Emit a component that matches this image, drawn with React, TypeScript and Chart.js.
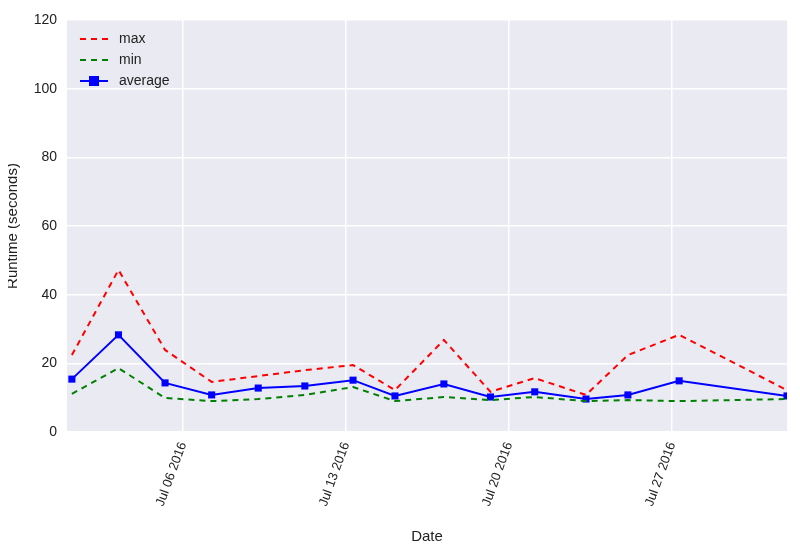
import { useEffect, useRef } from 'react';
import { Chart, registerables } from 'chart.js';

Chart.register(...registerables);

// x = day of July 2016 (fractional, samples taken ~05:30)
const days = [1.23, 3.23, 5.23, 7.23, 9.23, 11.23, 13.3, 15.1, 17.2, 19.2, 21.1, 23.3, 25.1, 27.3, 31.93];
const maxVals = [22.4, 47.2, 23.9, 14.6, 16.3, 18.0, 19.5, 12.2, 26.8, 11.7, 15.7, 10.8, 22.4, 28.3, 12.2];
const minVals = [11.1, 18.6, 9.9, 9.0, 9.6, 10.8, 13.1, 9.0, 10.2, 9.3, 10.2, 9.0, 9.3, 9.0, 9.6];
const avgVals = [15.4, 28.3, 14.3, 10.8, 12.8, 13.4, 15.1, 10.5, 14.0, 10.2, 11.7, 9.6, 10.8, 14.9, 10.5];
const xTicks = [6, 13, 20, 27];
const xTickLabels = ['Jul 06 2016', 'Jul 13 2016', 'Jul 20 2016', 'Jul 27 2016'];

const FONT = '"Liberation Sans", Arial, sans-serif';

const pts = (vals: number[]) => vals.map((y, i) => ({ x: days[i], y }));

const bgPlugin = {
  id: 'bg',
  beforeDraw(chart: Chart) {
    const { ctx, chartArea: a } = chart;
    ctx.save();
    ctx.fillStyle = '#EAEAF2';
    ctx.fillRect(a.left, a.top, a.right - a.left, a.bottom - a.top);
    ctx.restore();
  },
};

const legendPlugin = {
  id: 'customLegend',
  afterDraw(chart: Chart) {
    const { ctx } = chart;
    const items = [
      { label: 'max', color: 'red', dash: [6, 5], marker: false },
      { label: 'min', color: 'green', dash: [6, 5], marker: false },
      { label: 'average', color: 'blue', dash: [], marker: true },
    ];
    ctx.save();
    ctx.font = `14px ${FONT}`;
    ctx.textBaseline = 'middle';
    items.forEach((it, i) => {
      const y = 39 + i * 21;
      ctx.strokeStyle = it.color;
      ctx.lineWidth = 2;
      ctx.setLineDash(it.dash);
      ctx.beginPath();
      ctx.moveTo(80, y);
      ctx.lineTo(108, y);
      ctx.stroke();
      ctx.setLineDash([]);
      if (it.marker) {
        ctx.fillStyle = it.color;
        ctx.fillRect(89, y - 5, 10, 10);
      }
      ctx.fillStyle = '#222';
      ctx.fillText(it.label, 119, y);
    });
    ctx.restore();
  },
};

export default function App() {
  const canvasRef = useRef<HTMLCanvasElement>(null);

  useEffect(() => {
    if (!canvasRef.current) return;
    const chart = new Chart(canvasRef.current, {
      type: 'line',
      data: {
        datasets: [
          { label: 'max', data: pts(maxVals), borderColor: 'red', borderDash: [6, 5], borderWidth: 2, pointRadius: 0, fill: false },
          { label: 'min', data: pts(minVals), borderColor: 'green', borderDash: [6, 5], borderWidth: 2, pointRadius: 0, fill: false },
          {
            label: 'average', data: pts(avgVals), borderColor: 'blue', backgroundColor: 'blue', borderWidth: 2,
            pointStyle: 'rect', pointRadius: 5, pointBorderWidth: 0, fill: false,
          },
        ],
      },
      options: {
        responsive: false,
        animation: false,
        layout: { padding: { top: 20, right: 13 } },
        plugins: { legend: { display: false }, tooltip: { enabled: false } },
        scales: {
          x: {
            type: 'linear',
            min: 1.02,
            max: 31.93,
            afterBuildTicks: (axis: any) => { axis.ticks = xTicks.map((v) => ({ value: v })); },
            afterFit: (axis: any) => { axis.height = 118; },
            grid: { color: '#fff', lineWidth: 1.5, drawTicks: false },
            border: { display: false },
            ticks: {
              autoSkip: false,
              minRotation: 70,
              maxRotation: 70,
              padding: 8,
              color: '#222',
              font: { family: FONT, size: 13 },
              callback: (v: any) => xTickLabels[xTicks.indexOf(Number(v))] ?? '',
            },
            title: { display: true, text: 'Date', color: '#222', font: { family: FONT, size: 15 }, padding: { top: 0 } },
          },
          y: {
            min: 0,
            max: 120,
            afterFit: (axis: any) => { axis.width = 67; },
            grid: { color: '#fff', lineWidth: 1.5, drawTicks: false },
            border: { display: false },
            ticks: { stepSize: 20, padding: 10, color: '#222', font: { family: FONT, size: 14 } },
            title: { display: true, text: 'Runtime (seconds)', color: '#222', font: { family: FONT, size: 15 } },
          },
        },
      },
      plugins: [bgPlugin, legendPlugin],
    });
    return () => chart.destroy();
  }, []);

  return (
    <div style={{ width: 800, height: 550, margin: -8, background: '#fff' }}>
      <canvas ref={canvasRef} width={800} height={550} />
    </div>
  );
}
